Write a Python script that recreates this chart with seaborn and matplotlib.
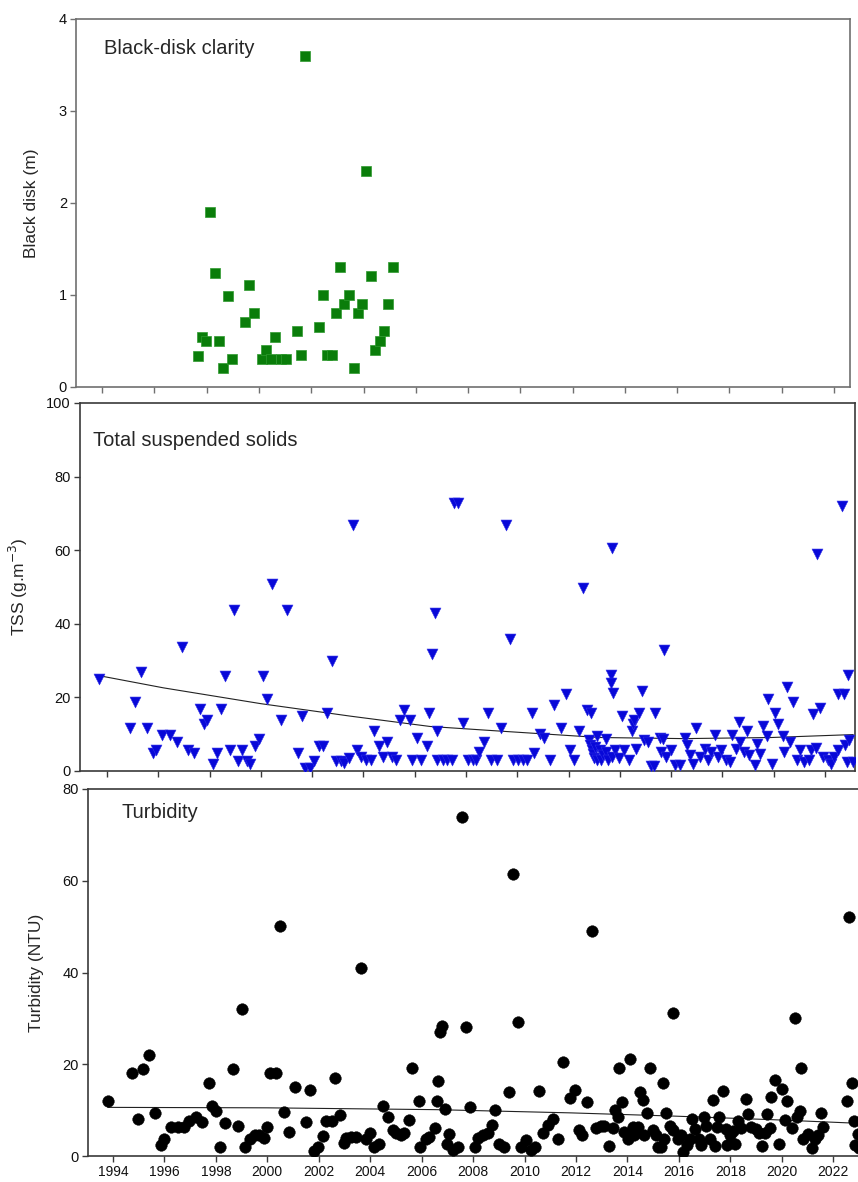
import matplotlib
matplotlib.use("Agg")
import matplotlib.pyplot as plt
import seaborn as sns
import pandas as pd
import numpy as np

# ---------------- data ----------------
bd_years = [1997.68, 1997.83, 1997.98, 1998.13, 1998.31, 1998.47, 1998.63, 1998.80, 1998.97,
            1999.46, 1999.60, 1999.80, 2000.11, 2000.27, 2000.46, 2000.60, 2000.86, 2001.05,
            2001.47, 2001.62, 2001.76, 2002.28, 2002.44, 2002.60, 2002.78, 2002.94, 2003.11,
            2003.27, 2003.45, 2003.63, 2003.79, 2003.94, 2004.11, 2004.29, 2004.45, 2004.64,
            2004.80, 2004.93, 2005.12]
bd_values = [0.33, 0.54, 0.50, 1.90, 1.24, 0.50, 0.20, 0.99, 0.30,
             0.70, 1.10, 0.80, 0.30, 0.40, 0.30, 0.54, 0.30, 0.30,
             0.60, 0.34, 3.60, 0.65, 1.00, 0.34, 0.34, 0.80, 1.30,
             0.90, 1.00, 0.20, 0.80, 0.90, 2.35, 1.20, 0.40, 0.50,
             0.60, 0.90, 1.30]

tss_years = [1993.70, 1994.90, 1995.08, 1995.33, 1995.55, 1995.81, 1995.92, 1996.16, 1996.46, 1996.72,
             1996.92, 1997.16, 1997.38, 1997.64, 1997.79, 1997.92, 1998.12, 1998.29, 1998.45, 1998.61,
             1998.78, 1998.94, 1999.10, 1999.27, 1999.46, 1999.59, 1999.79, 1999.94, 2000.07, 2000.24,
             2000.44, 2000.80, 2001.03, 2001.46, 2001.61, 2001.74, 2001.91, 2002.07, 2002.26, 2002.42,
             2002.59, 2002.76, 2002.94, 2003.13, 2003.26, 2003.44, 2003.61, 2003.76, 2003.92, 2004.09,
             2004.29, 2004.41, 2004.61, 2004.78, 2004.91, 2005.11, 2005.29, 2005.42, 2005.59, 2005.82,
             2005.91, 2006.08, 2006.24, 2006.48, 2006.57, 2006.68, 2006.79, 2006.89, 2006.89, 2007.09,
             2007.28, 2007.44, 2007.53, 2007.70, 2007.87, 2008.07, 2008.26, 2008.39, 2008.52, 2008.69,
             2008.85, 2008.98, 2009.21, 2009.37, 2009.55, 2009.71, 2009.83, 2010.02, 2010.22, 2010.39,
             2010.57, 2010.67, 2010.90, 2011.06, 2011.26, 2011.45, 2011.69, 2011.91, 2012.04, 2012.21,
             2012.39, 2012.56, 2012.73, 2012.89, 2012.80, 2012.85, 2012.90, 2012.95, 2013.00, 2013.05,
             2013.10, 2013.12, 2013.22, 2013.28, 2013.35, 2013.46, 2013.48, 2013.55, 2013.66, 2013.66,
             2013.68, 2013.75, 2013.68, 2013.80, 2013.98, 2014.09, 2014.18, 2014.37, 2014.46, 2014.50,
             2014.57, 2014.64, 2014.74, 2014.87, 2014.96, 2015.09, 2015.22, 2015.35, 2015.38, 2015.55,
             2015.61, 2015.68, 2015.72, 2015.81, 2016.00, 2016.17, 2016.33, 2016.53, 2016.62, 2016.72,
             2016.85, 2016.98, 2017.11, 2017.31, 2017.44, 2017.57, 2017.70, 2017.83, 2017.96, 2018.13,
             2018.29, 2018.39, 2018.52, 2018.65, 2018.68, 2018.83, 2018.94, 2019.04, 2019.27, 2019.33,
             2019.46, 2019.59, 2019.73, 2019.77, 2019.92, 2020.05, 2020.18, 2020.36, 2020.41, 2020.51,
             2020.64, 2020.75, 2020.91, 2021.04, 2021.20, 2021.37, 2021.44, 2021.54, 2021.63, 2021.67,
             2021.80, 2021.93, 2022.10, 2022.23, 2022.36, 2022.52, 2022.52, 2022.65, 2022.74, 2022.78,
             2022.85, 2022.91, 2022.95, 2023.11]
tss_values = [24.9, 11.8, 18.8, 26.9, 11.8, 4.9, 5.8, 9.8, 9.8, 7.8,
              33.8, 5.8, 4.9, 16.8, 12.9, 13.8, 1.8, 4.9, 16.8, 25.9,
              5.8, 43.7, 2.7, 5.8, 2.7, 1.8, 6.7, 8.8, 25.9, 19.7,
              50.8, 13.8, 43.7, 4.9, 14.9, 0.8, 0.8, 2.7, 6.7, 6.7,
              15.8, 29.9, 2.7, 2.7, 2.2, 3.4, 66.9, 5.8, 3.9, 3.0,
              3.0, 10.9, 6.7, 3.9, 7.9, 3.9, 3.0, 13.8, 16.7, 13.8,
              3.0, 9.1, 3.0, 6.7, 15.8, 31.7, 42.8, 10.9, 3.0, 3.0,
              3.0, 3.0, 72.8, 72.8, 13.0, 3.0, 3.0, 3.0, 5.2, 7.9,
              15.8, 3.0, 3.0, 11.8, 66.9, 36.0, 3.0, 3.0, 3.0, 3.0,
              15.8, 5.0, 10.1, 9.0, 3.0, 17.9, 11.8, 20.9, 5.8, 3.0,
              10.9, 49.8, 16.7, 15.8, 8.5, 7.0, 5.8, 4.5, 3.5, 6.5,
              3.0, 9.5, 5.6, 3.0, 4.3, 8.8, 5.2, 3.0, 26.0, 23.8,
              60.7, 21.1, 3.8, 5.6, 3.4, 14.9, 5.6, 3.0, 10.8, 12.8,
              13.9, 6.1, 15.7, 21.8, 8.4, 7.9, 1.3, 1.3, 15.7, 9.1,
              5.2, 8.8, 32.8, 3.8, 5.6, 1.6, 1.6, 9.1, 7.0, 4.3,
              2.0, 11.7, 3.8, 6.1, 3.0, 5.2, 9.7, 3.8, 5.6, 3.0,
              2.5, 9.9, 6.1, 13.2, 7.9, 5.2, 11.0, 4.3, 1.6, 7.4,
              4.7, 12.2, 9.4, 19.7, 2.0, 15.7, 12.8, 9.6, 5.2, 22.9,
              7.9, 18.8, 3.0, 5.6, 2.5, 3.0, 5.6, 15.6, 6.3, 58.9,
              17.2, 3.8, 3.0, 2.0, 3.8, 5.8, 20.9, 71.9, 20.9, 7.0,
              2.5, 26.0, 8.3, 2.5]
tss_trend_years = [1993.7, 1996.2, 2000.0, 2003.5, 2006.6, 2009.2, 2013.2, 2016.5, 2019.9, 2023.1]
tss_trend_values = [25.9, 22.6, 18.3, 14.9, 12.1, 10.9, 9.1, 8.8, 9.1, 9.9]

turb_years = [1993.79, 1994.73, 1994.96, 1995.16, 1995.42, 1995.64, 1995.87, 1996.00, 1996.25, 1996.52,
              1996.78, 1996.97, 1997.22, 1997.46, 1997.72, 1997.87, 1998.00, 1998.17, 1998.37, 1998.67,
              1998.85, 1999.00, 1999.15, 1999.34, 1999.54, 1999.69, 1999.86, 2000.00, 2000.12, 2000.32,
              2000.49, 2000.64, 2000.86, 2001.07, 2001.51, 2001.67, 2001.82, 2001.98, 2002.16, 2002.29,
              2002.50, 2002.63, 2002.81, 2002.98, 2003.05, 2003.24, 2003.43, 2003.66, 2003.82, 2003.99,
              2004.15, 2004.34, 2004.48, 2004.69, 2004.90, 2004.99, 2005.19, 2005.32, 2005.49, 2005.63,
              2005.89, 2005.94, 2006.16, 2006.29, 2006.53, 2006.59, 2006.64, 2006.72, 2006.81, 2006.92,
              2006.98, 2007.05, 2007.23, 2007.40, 2007.58, 2007.72, 2007.89, 2008.07, 2008.20, 2008.37,
              2008.57, 2008.72, 2008.86, 2009.02, 2009.21, 2009.39, 2009.57, 2009.74, 2009.87, 2010.06,
              2010.26, 2010.39, 2010.58, 2010.71, 2010.91, 2011.10, 2011.30, 2011.49, 2011.75, 2011.95,
              2012.10, 2012.25, 2012.43, 2012.61, 2012.79, 2012.99, 2013.10, 2013.27, 2013.45, 2013.53,
              2013.62, 2013.69, 2013.78, 2013.88, 2014.01, 2014.10, 2014.20, 2014.27, 2014.40, 2014.49,
              2014.60, 2014.66, 2014.77, 2014.88, 2014.99, 2015.12, 2015.18, 2015.31, 2015.39, 2015.44,
              2015.51, 2015.66, 2015.78, 2015.79, 2015.96, 2016.09, 2016.16, 2016.31, 2016.42, 2016.52,
              2016.64, 2016.78, 2016.87, 2016.97, 2017.07, 2017.20, 2017.32, 2017.39, 2017.48, 2017.58,
              2017.71, 2017.82, 2017.88, 2017.97, 2018.10, 2018.20, 2018.29, 2018.43, 2018.60, 2018.69,
              2018.82, 2018.99, 2019.11, 2019.25, 2019.33, 2019.44, 2019.56, 2019.60, 2019.73, 2019.90,
              2020.01, 2020.12, 2020.19, 2020.38, 2020.52, 2020.58, 2020.71, 2020.74, 2020.83, 2021.03,
              2021.18, 2021.29, 2021.42, 2021.51, 2021.59, 2022.53, 2022.63, 2022.72, 2022.79, 2022.85,
              2022.97, 2022.99]
turb_values = [12.0, 18.0, 8.0, 19.0, 22.1, 9.4, 2.5, 3.6, 6.3, 6.3,
               6.3, 7.7, 8.4, 7.4, 16.0, 11.0, 9.9, 2.0, 7.3, 19.0,
               6.6, 32.0, 2.0, 3.6, 4.6, 4.6, 3.9, 6.3, 18.0, 18.0,
               50.1, 9.6, 5.3, 15.0, 7.4, 14.4, 1.1, 1.9, 4.4, 7.6,
               7.6, 17.1, 8.9, 2.9, 3.9, 4.2, 4.2, 41.0, 3.6, 5.1,
               1.9, 2.7, 11.0, 8.6, 5.7, 5.0, 4.6, 5.0, 7.9, 19.1,
               12.0, 2.0, 3.6, 4.2, 6.1, 11.9, 16.3, 27.1, 28.3, 10.2,
               2.7, 4.7, 1.3, 2.0, 74.0, 28.2, 10.6, 1.9, 4.0, 4.6,
               5.0, 6.7, 10.0, 2.6, 2.0, 13.9, 61.5, 29.3, 1.9, 3.4,
               1.3, 2.0, 14.2, 5.1, 6.8, 8.0, 3.6, 20.5, 12.7, 14.3,
               5.7, 4.6, 11.8, 49.1, 6.0, 6.5, 6.5, 2.2, 6.2, 10.0,
               8.4, 19.1, 11.8, 5.3, 3.6, 21.1, 6.3, 4.6, 6.3, 14.0,
               12.2, 4.6, 9.3, 19.1, 5.7, 4.6, 2.0, 2.0, 16.0, 3.6,
               9.3, 6.5, 31.1, 5.7, 3.6, 4.6, 0.9, 2.4, 3.6, 8.0,
               5.8, 3.6, 2.4, 8.4, 6.6, 3.6, 12.2, 2.2, 6.3, 8.6,
               14.1, 5.8, 2.4, 4.6, 5.4, 2.6, 7.7, 6.0, 12.4, 9.1,
               6.3, 5.8, 5.1, 2.2, 5.1, 9.1, 6.0, 12.9, 16.6, 2.6,
               14.6, 7.9, 11.9, 6.0, 30.0, 8.6, 9.9, 19.1, 3.8, 4.9,
               1.8, 3.8, 4.6, 9.3, 6.3, 11.9, 52.2, 16.0, 7.7, 2.4,
               4.9, 1.8]
turb_trend_years = [1993.8, 2000.0, 2006.6, 2011.8, 2015.8, 2019.7, 2023.1]
turb_trend_values = [10.6, 10.5, 10.1, 9.4, 8.7, 7.9, 7.1]

year_ticks = list(range(1994, 2023, 2))
year_labels = [str(y) for y in year_ticks]

# ---------------- style ----------------
sns.set_style("ticks")
plt.rcParams['font.family'] = ['Liberation Sans', 'DejaVu Sans']
plt.rcParams['axes.linewidth'] = 1.2

W, H = 858, 1182
fig = plt.figure(figsize=(W / 100, H / 100), dpi=100)

def add_axes(left, right, top, bottom):
    return fig.add_axes([left / W, 1 - bottom / H, (right - left) / W, (bottom - top) / H])

ax1 = add_axes(76, 850, 19, 386.5)
ax2 = add_axes(80, 855, 403, 771)
ax3 = add_axes(88, 862, 789, 1156)

spine_col = '#3a3a3a'
for ax in (ax1, ax2, ax3):
    for s in ax.spines.values():
        s.set_color(spine_col)
        s.set_linewidth(1.2)
    ax.tick_params(direction='out', length=4.5, width=1.0, color=spine_col,
                   labelsize=10.5, labelcolor='#111111', pad=2)
    ax.set_xticks(year_ticks)
for s in ax1.spines.values():
    s.set_color('#707070')
ax1.tick_params(color='#707070')
ax3.tick_params(axis='x', labelsize=10)

label_fs = 12.5
title_fs = 14.5

# Black disk
df_bd = pd.DataFrame({'year': bd_years, 'value': bd_values})
sns.scatterplot(data=df_bd, x='year', y='value', ax=ax1, marker='s', s=48,
                color='#0a7d0a', edgecolor='#2f9a2f', linewidth=0.5, zorder=3)
ax1.set_xlim(1993.0, 2022.61)
ax1.set_ylim(0, 4)
ax1.set_yticks([0, 1, 2, 3, 4])
ax1.set_xticklabels([])
ax1.set_xlabel('')
ax1.set_ylabel('Black disk (m)', fontsize=label_fs)
ax1.yaxis.set_label_coords(-0.048, 0.5)
ax1.text(0.036, 0.921, 'Black-disk clarity', transform=ax1.transAxes,
         fontsize=title_fs, va='center', ha='left')

# TSS
df_tss = pd.DataFrame({'year': tss_years, 'value': tss_values})
df_tss_tr = pd.DataFrame({'year': tss_trend_years, 'value': tss_trend_values})
sns.lineplot(data=df_tss_tr, x='year', y='value', ax=ax2, color='#222222',
             linewidth=0.8, estimator=None, sort=False, zorder=2)
sns.scatterplot(data=df_tss, x='year', y='value', ax=ax2, marker='v', s=62,
                color='#0808d8', edgecolor='#3030e8', linewidth=0.4, zorder=3, clip_on=True)
ax2.set_xlim(1992.95, 2023.17)
ax2.set_ylim(0, 100)
ax2.set_yticks([0, 20, 40, 60, 80, 100])
ax2.set_xticklabels([])
ax2.set_xlabel('')
ax2.set_ylabel('TSS (g.m$^{-3}$)', fontsize=label_fs)
ax2.yaxis.set_label_coords(-0.065, 0.5)
ax2.text(0.017, 0.897, 'Total suspended solids', transform=ax2.transAxes,
         fontsize=title_fs, va='center', ha='left')

# Turbidity
df_t = pd.DataFrame({'year': turb_years, 'value': turb_values})
df_t_tr = pd.DataFrame({'year': turb_trend_years, 'value': turb_trend_values})
sns.lineplot(data=df_t_tr, x='year', y='value', ax=ax3, color='#222222',
             linewidth=0.8, estimator=None, sort=False, zorder=2)
sns.scatterplot(data=df_t, x='year', y='value', ax=ax3, marker='o', s=70,
                color='black', edgecolor='black', linewidth=0.3, zorder=3)
ax3.set_xlim(1993.03, 2023.12)
ax3.set_ylim(0, 80)
ax3.set_yticks([0, 20, 40, 60, 80])
ax3.set_xticklabels(year_labels)
ax3.set_xlabel('')
ax3.set_ylabel('Turbidity (NTU)', fontsize=label_fs)
ax3.yaxis.set_label_coords(-0.057, 0.5)
ax3.text(0.043, 0.935, 'Turbidity', transform=ax3.transAxes,
         fontsize=title_fs, va='center', ha='left')

fig.savefig('out.png', dpi=100, facecolor='white')
